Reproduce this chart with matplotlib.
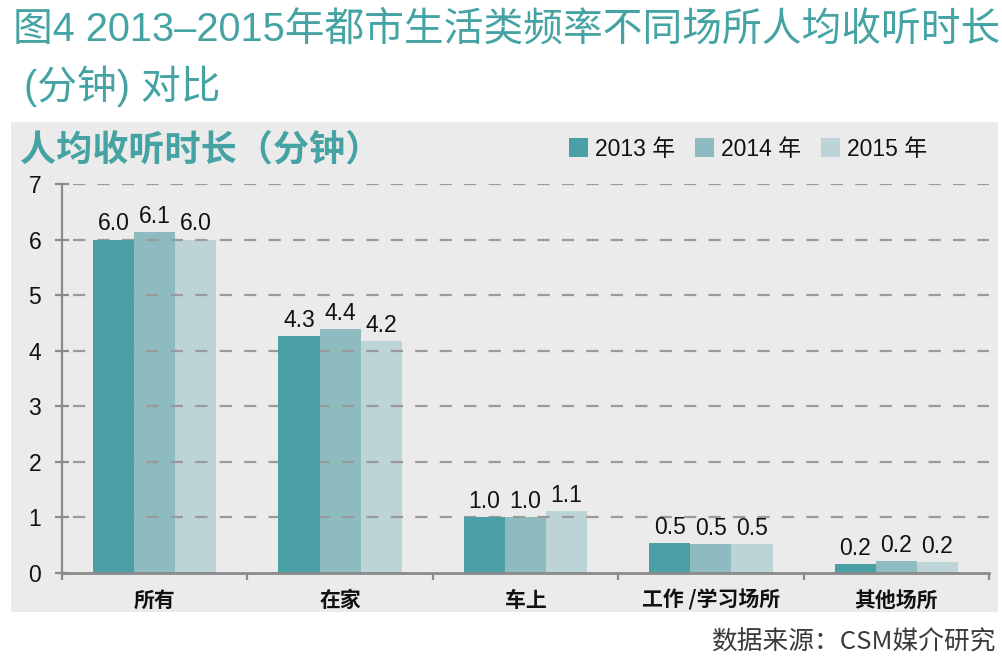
import matplotlib
matplotlib.use("Agg")
import matplotlib.pyplot as plt
from matplotlib.patches import Rectangle, Patch
import numpy as np

categories = ["所有", "在家", "车上", "工作 /学习场所", "其他场所"]
years = ["2013 年", "2014 年", "2015 年"]
v2013 = [6.0, 4.27, 1.0, 0.54, 0.16]
v2014 = [6.13, 4.39, 1.0, 0.52, 0.21]
v2015 = [6.0, 4.17, 1.11, 0.52, 0.19]
yticks = [0, 1, 2, 3, 4, 5, 6, 7]

colors = ["#4aa0a4", "#8dbbc0", "#bdd4d7"]
teal = "#45a3a3"
panel = "#ebebeb"
axis_gray = "#8a8a8a"

CJK = ["Noto Sans CJK SC", "DejaVu Sans"]
LAT = ["Liberation Sans", "Noto Sans CJK SC", "DejaVu Sans"]
plt.rcParams["font.family"] = LAT

W, H = 1003, 669
fig = plt.figure(figsize=(W / 100, H / 100), dpi=100)
fig.patch.set_facecolor("white")

# gray panel
fig.patches.append(Rectangle((11 / W, (H - 612) / H), 987 / W, 490 / H,
                             transform=fig.transFigure, facecolor=panel,
                             edgecolor="none", zorder=-10))

ax = fig.add_axes([62 / W, (H - 573) / H, (989 - 62) / W, (573 - 184) / H])
ax.set_facecolor("none")
ax.set_zorder(1)

x = np.arange(len(categories))
bw = 0.222
series = [v2013, v2014, v2015]
for i, (vals, c) in enumerate(zip(series, colors)):
    pos = x + (i - 1) * bw
    ax.bar(pos, vals, width=bw, color=c, zorder=2 if i == 0 else 1.5)
    for p, v in zip(pos, vals):
        ax.annotate(f"{v:.1f}", (p, v), xytext=(0, 3), textcoords="offset points",
                    ha="center", va="bottom", fontsize=16.5, color="#111111",
                    family=LAT)

ax.set_xlim(-0.5, len(categories) - 0.5)
ax.set_ylim(0, 7)

# grid
for yv in yticks[1:]:
    ax.axhline(yv, xmin=0.012, xmax=1.0, color="#9a9a9a", lw=1.6,
               linestyle=(0, (5.5, 5.5)), zorder=1.7)

for s in ["top", "right"]:
    ax.spines[s].set_visible(False)
ax.spines["left"].set_color(axis_gray)
ax.spines["left"].set_linewidth(1.6)
ax.spines["bottom"].set_color(axis_gray)
ax.spines["bottom"].set_linewidth(2.0)
ax.spines["bottom"].set_zorder(3)

ax.set_yticks(yticks)
ax.set_yticklabels([str(t) for t in yticks], fontsize=16.5, color="#111111")
ax.tick_params(axis="y", direction="inout", length=10, width=1.6, color=axis_gray, pad=10)

ax.set_xticks(x)
ax.set_xticklabels(categories, fontsize=15, family=CJK, fontweight="bold", color="#111111")
ax.tick_params(axis="x", which="major", length=0, pad=12)
ax.set_xticks(np.arange(-0.5, len(categories)), minor=True)
ax.tick_params(axis="x", which="minor", direction="out", length=5, width=1.6, color=axis_gray)

# legend
handles = [Patch(facecolor=c, edgecolor="none") for c in colors]
leg = fig.legend(handles, years, loc="center left", bbox_to_anchor=(569 / W, (H - 149) / H),
                 ncol=3, frameon=False, fontsize=16.5, handlelength=0.85, handleheight=0.85,
                 handletextpad=0.3, columnspacing=0.85, borderaxespad=0, borderpad=0)
for t in leg.get_texts():
    t.set_family(LAT)
    t.set_color("#111111")

# titles
fig.text(13 / W, (H - 30) / H, "图4 2013–2015年都市生活类频率不同场所人均收听时长",
         fontsize=28.6, color=teal, family=LAT, ha="left", va="center")
fig.text(24 / W, (H - 86) / H, "(分钟) 对比",
         fontsize=28.6, color=teal, family=LAT, ha="left", va="center")
fig.text(20 / W, (H - 150) / H, "人均收听时长（分钟）",
         fontsize=26, color=teal, family=CJK, fontweight="bold", ha="left", va="center")

fig.text(996 / W, (H - 643) / H, "数据来源：CSM媒介研究",
         fontsize=18.5, color="#3a3a3a", family=CJK, ha="right", va="center")

fig.savefig("out.png", dpi=100, facecolor="white")
